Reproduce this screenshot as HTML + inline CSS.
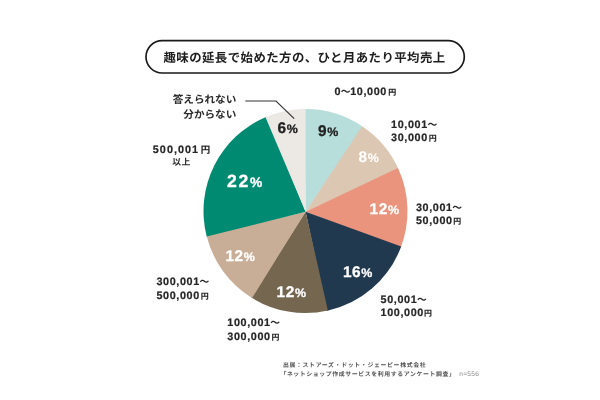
<!DOCTYPE html>
<html lang="ja">
<head>
<meta charset="utf-8">
<title>趣味の延長で始めた方の、ひと月あたり平均売上</title>
<style>
html,body{margin:0;padding:0;background:#fff;}
body{width:600px;height:400px;overflow:hidden;font-family:"Liberation Sans", "Noto Sans CJK JP", sans-serif;}
svg{display:block;}
svg text{font-family:"Liberation Sans", "Noto Sans CJK JP", sans-serif;text-rendering:geometricPrecision;}
</style>
</head>
<body>
<svg width="600" height="400" viewBox="0 0 600 400">
<rect width="600" height="400" fill="#ffffff"/>
<!-- title pill -->
<rect x="146.0" y="40.6" width="318.3" height="32.4" rx="16.2" ry="16.2" fill="#fff" stroke="#1a1a1a" stroke-width="1.7"/>
<text id="title" x="163.5" y="62.2" fill="#1e1e1e" font-weight="700" font-size="12.4" letter-spacing="0.45">趣味の延長で始めた方の、ひと月あたり平均売上</text>
<!-- pie -->
<g>
<path d="M305.6,211.7 L304.35,109.11 A102.0,102.0 0 0 1 363.18,126.97 Z" fill="#b8dedb"/>
<path d="M305.6,211.7 L362.14,126.27 A102.0,102.0 0 0 1 398.48,169.17 Z" fill="#dcc7b2"/>
<path d="M305.6,211.7 L397.96,168.04 A102.0,102.0 0 0 1 400.73,247.65 Z" fill="#ea937d"/>
<path d="M305.6,211.7 L401.17,246.48 A102.0,102.0 0 0 1 326.68,310.88 Z" fill="#21394e"/>
<path d="M305.6,211.7 L327.89,310.61 A102.0,102.0 0 0 1 251.04,297.34 Z" fill="#74664f"/>
<path d="M305.6,211.7 L252.09,298.00 A102.0,102.0 0 0 1 206.42,235.33 Z" fill="#c9ae97"/>
<path d="M305.6,211.7 L206.72,236.54 A102.0,102.0 0 0 1 266.67,116.78 Z" fill="#008a71"/>
<path d="M305.6,211.7 L265.51,117.26 A102.0,102.0 0 0 1 305.60,109.10 Z" fill="#ece8e4"/>
</g>
<!-- percent labels -->
<text x="277.6" y="133" fill="#222" font-weight="700" font-size="15.4" letter-spacing="0.5" stroke="#222" stroke-width="0.3">6<tspan font-size="12.4" dx="0.2">%</tspan></text>
<text x="318" y="135.8" fill="#222" font-weight="700" font-size="15.4" letter-spacing="0.5" stroke="#222" stroke-width="0.3">9<tspan font-size="12.4" dx="0.2">%</tspan></text>
<text x="358.4" y="161.7" fill="#fff" font-weight="700" font-size="15.4" letter-spacing="0.5" stroke="#fff" stroke-width="0.1">8<tspan font-size="12.4" dx="0.2">%</tspan></text>
<text x="369.6" y="213.7" fill="#fff" font-weight="700" font-size="15.4" letter-spacing="0.5" stroke="#fff" stroke-width="0.3">12<tspan font-size="12.4" dx="0.2">%</tspan></text>
<text x="342.9" y="276.7" fill="#fff" font-weight="700" font-size="15.4" letter-spacing="0.5" stroke="#fff" stroke-width="0.3">16<tspan font-size="12.4" dx="0.2">%</tspan></text>
<text x="276.6" y="297" fill="#fff" font-weight="700" font-size="15.4" letter-spacing="0.5" stroke="#fff" stroke-width="0.3">12<tspan font-size="12.4" dx="0.2">%</tspan></text>
<text x="225.4" y="261.3" fill="#fff" font-weight="700" font-size="15.4" letter-spacing="0.5" stroke="#fff" stroke-width="0.3">12<tspan font-size="12.4" dx="0.2">%</tspan></text>
<text x="227" y="187" fill="#fff" font-weight="700" font-size="17.6" letter-spacing="1.6" stroke="#fff" stroke-width="0.3">22<tspan font-size="13.8" dx="0.2">%</tspan></text>
<!-- leader line -->
<polyline points="245.3,101 276,101 294.2,118.6" fill="none" stroke="#333" stroke-width="1.1"/>
<!-- outer labels -->
<text x="236.3" y="102.8" text-anchor="end" fill="#2a2a2a" font-weight="700" font-size="10.6">答えられない</text>
<text x="236.3" y="118.0" text-anchor="end" fill="#2a2a2a" font-weight="700" font-size="10.6">分からない</text>
<text x="334.5" y="94.8" fill="#262626" stroke="#262626" stroke-width="0.2" font-weight="700" font-size="10.8" letter-spacing="0.62">0<tspan font-size="9.8" dx="-0.4" letter-spacing="0" stroke-width="0">〜</tspan><tspan dx="-0.3">10,000</tspan><tspan font-size="8" dx="1.2" stroke-width="0.15">円</tspan></text>
<text x="391.1" y="127.6" fill="#262626" stroke="#262626" stroke-width="0.2" font-weight="700" font-size="10.8" letter-spacing="0.62">10,001<tspan font-size="9.8" dx="-0.4" letter-spacing="0" stroke-width="0">〜</tspan></text><text x="391.1" y="141.4" fill="#262626" stroke="#262626" stroke-width="0.2" font-weight="700" font-size="10.8" letter-spacing="0.62">30,000<tspan font-size="7.9" dx="0.8" stroke-width="0.15">円</tspan></text>
<text x="416" y="210.6" fill="#262626" stroke="#262626" stroke-width="0.2" font-weight="700" font-size="10.8" letter-spacing="0.62">30,001<tspan font-size="9.8" dx="-0.4" letter-spacing="0" stroke-width="0">〜</tspan></text><text x="416" y="224.4" fill="#262626" stroke="#262626" stroke-width="0.2" font-weight="700" font-size="10.8" letter-spacing="0.62">50,000<tspan font-size="7.9" dx="0.4" stroke-width="0.15">円</tspan></text>
<text x="380.6" y="302.6" fill="#262626" stroke="#262626" stroke-width="0.2" font-weight="700" font-size="10.8" letter-spacing="0.62">50,001<tspan font-size="9.8" dx="-0.4" letter-spacing="0" stroke-width="0">〜</tspan></text><text x="380.6" y="316.40000000000003" fill="#262626" stroke="#262626" stroke-width="0.2" font-weight="700" font-size="10.8" letter-spacing="0.62">100,000<tspan font-size="7.9" dx="0.1" stroke-width="0.15">円</tspan></text>
<text x="227.3" y="326.2" fill="#262626" stroke="#262626" stroke-width="0.2" font-weight="700" font-size="10.8" letter-spacing="0.62">100,001<tspan font-size="9.8" dx="-0.4" letter-spacing="0" stroke-width="0">〜</tspan></text><text x="227.3" y="340.0" fill="#262626" stroke="#262626" stroke-width="0.2" font-weight="700" font-size="10.8" letter-spacing="0.62">300,000<tspan font-size="7.9" dx="0.8" stroke-width="0.15">円</tspan></text>
<text x="156.5" y="285.0" fill="#262626" stroke="#262626" stroke-width="0.2" font-weight="700" font-size="10.8" letter-spacing="0.62">300,001<tspan font-size="9.8" dx="-0.4" letter-spacing="0" stroke-width="0">〜</tspan></text><text x="156.5" y="298.8" fill="#262626" stroke="#262626" stroke-width="0.2" font-weight="700" font-size="10.8" letter-spacing="0.62">500,000<tspan font-size="7.9" dx="0.8" stroke-width="0.15">円</tspan></text>
<text x="152.8" y="152.8" fill="#262626" stroke="#262626" stroke-width="0.2" font-weight="700" font-size="10.8" letter-spacing="1.05">500,001<tspan font-size="9.4" dx="1.6" stroke-width="0.15">円</tspan></text>
<text x="181.6" y="165.3" text-anchor="middle" fill="#2a2a2a" font-weight="700" font-size="8.8" letter-spacing="0.5">以上</text>
<!-- footer -->
<text x="282.9" y="366.9" fill="#505050" font-weight="700" font-size="5.9" letter-spacing="0.66">出展：ストアーズ・ドット・ジェーピー株式会社</text>
<text x="280.4" y="376.0" fill="#505050" font-weight="700" font-size="5.9" letter-spacing="0.6">「ネットショップ作成サービスを利用するアンケート調査」</text>
<text x="459.2" y="376.3" fill="#888888" font-weight="400" font-size="6.6" letter-spacing="0.3">n=556</text>
</svg>
</body>
</html>
